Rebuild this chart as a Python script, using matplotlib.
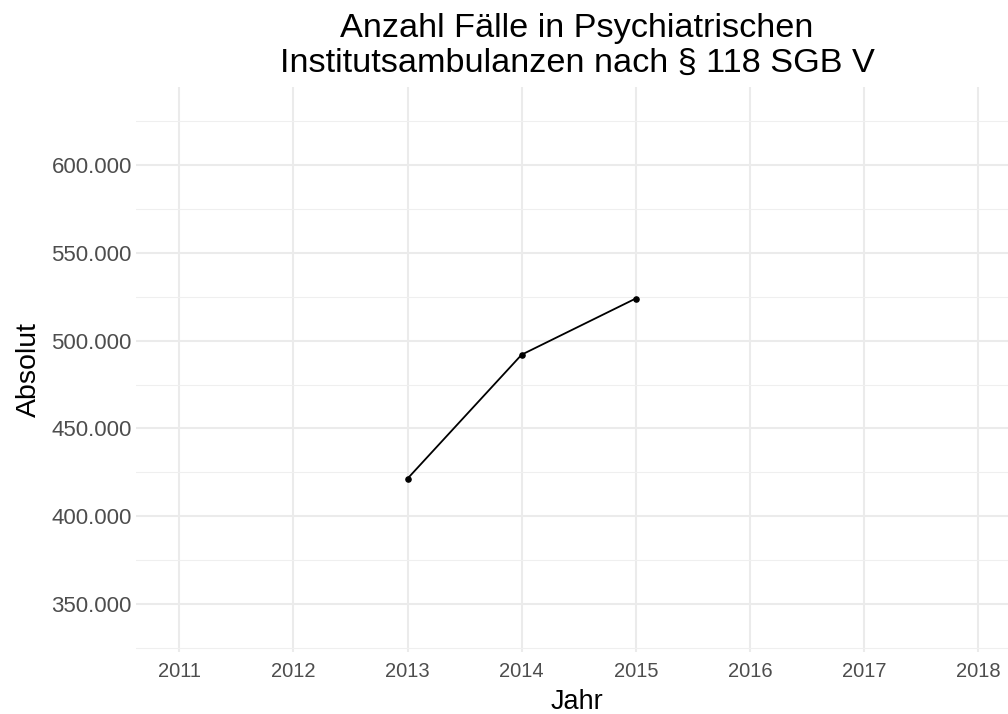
import matplotlib

matplotlib.use("Agg")
import matplotlib.pyplot as plt
from matplotlib.ticker import FuncFormatter, MultipleLocator

# ── Data ──────────────────────────────────────────────────────────────────────
jahre = [2013, 2014, 2015]
faelle = [421400, 492000, 524000]
x_ticks = [2011, 2012, 2013, 2014, 2015, 2016, 2017, 2018]
y_ticks = [350000, 400000, 450000, 500000, 550000, 600000]

plt.rcParams["font.family"] = ["Liberation Sans", "DejaVu Sans"]

fig = plt.figure(figsize=(10.08, 7.14), dpi=100)
ax = fig.add_axes([136 / 1008, 1 - 652 / 714, 882 / 1008, 565 / 714])

ax.plot(jahre, faelle, color="black", linewidth=1.3, zorder=3)
ax.scatter(jahre, faelle, color="black", s=14, zorder=4)

ax.set_xlim(2010.62, 2018.35)
ax.set_ylim(322600, 644500)
ax.set_xticks(x_ticks)
ax.set_yticks(y_ticks)
ax.yaxis.set_minor_locator(MultipleLocator(50000, offset=25000))
ax.xaxis.set_minor_locator(MultipleLocator(1, offset=0.5))
ax.yaxis.set_major_formatter(
    FuncFormatter(lambda v, _: f"{int(v):,}".replace(",", "."))
)

ax.grid(which="major", color="#EBEBEB", linewidth=1.5)
ax.grid(which="minor", axis="y", color="#EFEFEF", linewidth=0.8)
ax.set_axisbelow(True)
for s in ax.spines.values():
    s.set_visible(False)
ax.tick_params(which="both", length=0, labelcolor="#4D4D4D")
ax.tick_params(axis="y", labelsize=16, pad=3)
ax.tick_params(axis="x", labelsize=14.5, pad=7)
ax.tick_params(axis="x", which="minor", labelbottom=False)

ax.set_ylabel("Absolut", fontsize=20.5, labelpad=7)
# x-axis title placed by baseline so it sits flush with the bottom edge
fig.text(577 / 1008, 1 - 709 / 714, "Jahr", ha="center", va="baseline", fontsize=19.5)
fig.text(
    577 / 1008,
    1 - 46 / 714,
    "Anzahl Fälle in Psychiatrischen\nInstitutsambulanzen nach § 118 SGB V",
    ha="center",
    va="center",
    fontsize=24.7,
    linespacing=1.15,
)

plt.savefig("out.png", dpi=100)
plt.close()
